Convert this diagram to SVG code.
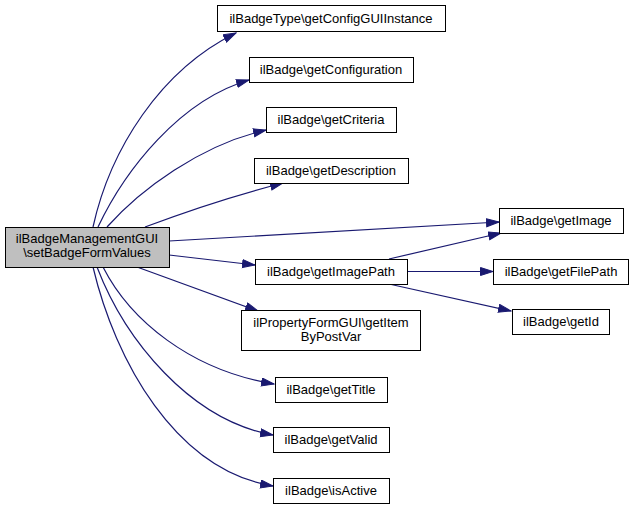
<svg xmlns="http://www.w3.org/2000/svg" width="633" height="509" viewBox="0 0 633 509">
<style>
.n rect{fill:#ffffff;stroke:#000000;stroke-width:1}
.n.main rect{fill:#bfbfbf}
.n text{font-family:"Liberation Sans",Arial,Helvetica,sans-serif;font-size:13px;fill:#000000;text-anchor:middle}
.e path{fill:none;stroke:#191970;stroke-width:1.2;marker-end:url(#arr)}
</style>
<defs>
<marker id="arr" markerUnits="userSpaceOnUse" markerWidth="14" markerHeight="10" refX="13" refY="4.5" orient="auto">
<path d="M0.5,0.5 L13,4.5 L0.5,8.5 z" fill="#191970" stroke="#191970" stroke-width="1"/>
</marker>
</defs>
<rect width="633" height="509" fill="#ffffff"/>
<g id="edges" class="e">
<path d="M93,227 C110,150 160,70 236,33"/>
<path d="M98,227 C125,170 180,100 249,80"/>
<path d="M107,227 C140,190 200,145 266,130"/>
<path d="M145,227 C190,210 240,194 283,183"/>
<path d="M169,241 L499,222"/>
<path d="M169,255 L255,265"/>
<path d="M137,267 L258,311"/>
<path d="M103,267 C130,320 190,370 274,384"/>
<path d="M97,267 C125,340 190,420 273,435"/>
<path d="M93,267 C115,360 175,470 273,486"/>
<path d="M389,259 L501,233"/>
<path d="M407,271.5 L493,271.5"/>
<path d="M389,284 L511,311"/>
</g>
<g id="main" class="n main"><rect x="5.5" y="227.5" width="164" height="40"/><text x="87" y="243">ilBadgeManagementGUI</text><text x="87" y="257">\setBadgeFormValues</text></g>
<g id="getConfigGUIInstance" class="n"><rect x="217.5" y="5.5" width="228" height="26"/><text x="331" y="23">ilBadgeType\getConfigGUIInstance</text></g>
<g id="getConfiguration" class="n"><rect x="249.5" y="57.5" width="164" height="25"/><text x="331" y="74">ilBadge\getConfiguration</text></g>
<g id="getCriteria" class="n"><rect x="266.5" y="107.5" width="130" height="25"/><text x="331" y="124">ilBadge\getCriteria</text></g>
<g id="getDescription" class="n"><rect x="254.5" y="158.5" width="154" height="25"/><text x="331" y="175">ilBadge\getDescription</text></g>
<g id="getImage" class="n"><rect x="499.5" y="208.5" width="124" height="25"/><text x="561" y="225">ilBadge\getImage</text></g>
<g id="getImagePath" class="n"><rect x="255.5" y="259.5" width="152" height="25"/><text x="331" y="276">ilBadge\getImagePath</text></g>
<g id="getFilePath" class="n"><rect x="493.5" y="259.5" width="135" height="25"/><text x="561" y="276">ilBadge\getFilePath</text></g>
<g id="getId" class="n"><rect x="512.5" y="309.5" width="97" height="25"/><text x="561" y="326">ilBadge\getId</text></g>
<g id="getItemByPostVar" class="n"><rect x="241.5" y="310.5" width="179" height="40"/><text x="331" y="326.5">ilPropertyFormGUI\getItem</text><text x="331" y="340.5">ByPostVar</text></g>
<g id="getTitle" class="n"><rect x="275.5" y="377.5" width="112" height="25"/><text x="331" y="394">ilBadge\getTitle</text></g>
<g id="getValid" class="n"><rect x="273.5" y="427.5" width="116" height="25"/><text x="331" y="444">ilBadge\getValid</text></g>
<g id="isActive" class="n"><rect x="273.5" y="478.5" width="116" height="25"/><text x="331" y="495">ilBadge\isActive</text></g>
</svg>
